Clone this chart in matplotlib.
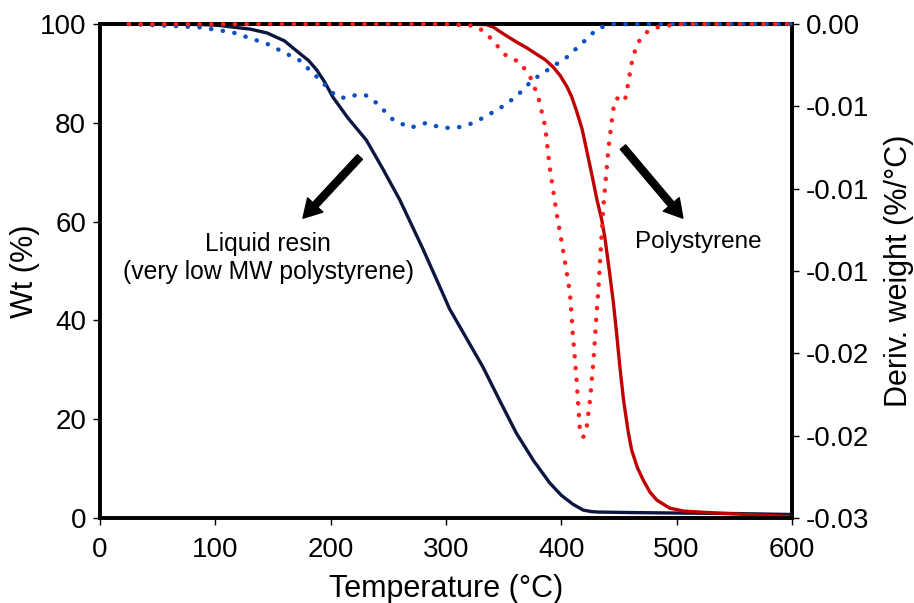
import matplotlib
matplotlib.use("Agg")
from matplotlib import pyplot as plt
from matplotlib.ticker import FixedLocator, FixedFormatter

plt.rcParams['font.family'] = ['Liberation Sans', 'DejaVu Sans']

# TGA weight curves (left axis)
resin_t = [25, 60, 90, 105, 115, 130, 145, 160, 173, 181, 188, 195, 202, 215, 231, 245, 260,
           280, 297, 303, 318, 332, 347, 361, 376, 390, 400, 410, 419, 426, 432, 460, 500, 550, 600]
resin_wt = [100, 100, 99.9, 99.7, 99.4, 99.0, 98.2, 96.6, 94.1, 92.6, 90.7, 88.2, 85.2, 81.0,
            76.5, 70.8, 64.4, 54.5, 45.6, 42.4, 36.3, 30.6, 23.6, 17.2, 11.6, 7.1, 4.6, 2.8,
            1.6, 1.3, 1.2, 1.1, 1.0, 0.9, 0.7]

ps_t = [25, 200, 320, 335, 341, 350, 361, 370, 378, 386, 393, 399, 405, 409, 413, 418, 422,
        427, 431, 435, 438, 442, 445, 448, 451, 454, 458, 461, 466, 471, 477, 483, 494, 506,
        520, 535, 570, 600]
ps_wt = [100, 100, 100, 99.9, 99.4, 98.0, 96.4, 95.2, 94.0, 92.8, 91.3, 89.6, 87.3, 85.3,
         82.6, 78.8, 74.5, 69.0, 64.4, 60.5, 56.5, 49.5, 44.0, 37.4, 30.2, 23.9, 17.5, 13.8,
         10.2, 7.7, 5.2, 3.6, 2.0, 1.4, 1.2, 1.0, 0.6, 0.3]

# derivative curves (right axis)
resin_dt = [25, 60, 87, 115, 145, 173, 191, 205, 214, 222, 230, 240, 254, 269, 283, 296, 309,
            320, 332, 347, 361, 375, 390, 405, 419, 431, 442, 500, 550, 600]
resin_d = [0, -0.0001, -0.0002, -0.0005, -0.0012, -0.0022, -0.0034, -0.0044, -0.0045, -0.0043,
           -0.0043, -0.0048, -0.0058, -0.0063, -0.0060, -0.0063, -0.0063, -0.0061, -0.0057,
           -0.0051, -0.0044, -0.0034, -0.0027, -0.0020, -0.0011, -0.0003, 0, 0, 0, 0]

ps_dt = [25, 100, 200, 300, 325, 332, 341, 350, 357, 364, 373, 380, 386, 390, 396, 402, 407.5,
         410, 413.5, 416, 419, 422, 425, 428, 431, 432, 436.5, 441, 445, 448, 452, 455, 457,
         461, 465.5, 474, 483, 500, 550, 600]
ps_d = [0, 0, 0, 0, -0.0001, -0.0004, -0.0010, -0.0018, -0.0021, -0.0023, -0.0032, -0.0044,
        -0.0062, -0.0087, -0.0115, -0.0139, -0.0163, -0.0188, -0.0218, -0.0245, -0.0251,
        -0.0245, -0.0228, -0.0204, -0.0172, -0.0163, -0.0111, -0.0075, -0.0052, -0.0045,
        -0.0046, -0.0047, -0.0040, -0.0024, -0.0012, -0.0005, -0.0002, 0, 0, 0]

x_ticks = [0, 100, 200, 300, 400, 500, 600]
wt_ticks = [0, 20, 40, 60, 80, 100]
d_ticks = [0, -0.005, -0.01, -0.015, -0.02, -0.025, -0.03]
d_labels = ['0.00', '-0.01', '-0.01', '-0.01', '-0.02', '-0.02', '-0.03']

fig = plt.figure(figsize=(9.14, 6.03), dpi=100)
ax = fig.add_axes([0.1094, 0.141, 0.757, 0.819])
ax2 = ax.twinx()

ax.plot(resin_t, resin_wt, color='#0c1640', lw=2.4, zorder=3)
ax.plot(ps_t, ps_wt, color='#c00000', lw=2.4, zorder=3)

dots = (0, (0.05, 2.6))
ax2.plot(resin_dt, resin_d, color='#0a4fc4', lw=3.2, ls=dots, dash_capstyle='round', clip_on=False, zorder=3)
ax2.plot(ps_dt, ps_d, color='#ff1f1f', lw=3.2, ls=dots, dash_capstyle='round', clip_on=False, zorder=3)

ax.set_xlim(0, 600)
ax.set_ylim(0, 100)
ax2.set_ylim(-0.03, 0)
ax.set_xticks(x_ticks)
ax.set_yticks(wt_ticks)
ax2.yaxis.set_major_locator(FixedLocator(d_ticks))
ax2.yaxis.set_major_formatter(FixedFormatter(d_labels))

for a in (ax, ax2):
    for s in a.spines.values():
        s.set_linewidth(2.6)
    a.tick_params(direction='out', length=5, width=1.0, labelsize=20, pad=5)
ax.tick_params(axis='x', pad=8.5)

ax.set_xlabel('Temperature (°C)', fontsize=22, labelpad=8)
ax.set_ylabel('Wt (%)', fontsize=22, labelpad=0)
ax2.set_ylabel('Deriv. weight (%/°C)', fontsize=22, labelpad=11)

ax.text(146, 52.6, 'Liquid resin\n(very low MW polystyrene)', ha='center', va='center',
        fontsize=17.8, linespacing=1.2)
ax.text(519, 55.9, 'Polystyrene', ha='center', va='center', fontsize=17.5)

arrow = dict(facecolor='black', edgecolor='black', width=5, headwidth=15, headlength=13)
ax2.annotate('', xy=(176, -0.03 + 0.03 * 60.7 / 100), xytext=(225.4, -0.03 + 0.03 * 73.1 / 100),
             arrowprops=arrow)
ax2.annotate('', xy=(505.5, -0.03 + 0.03 * 60.7 / 100), xytext=(453.5, -0.03 + 0.03 * 75.1 / 100),
             arrowprops=arrow)

fig.savefig('out.png', dpi=100)
